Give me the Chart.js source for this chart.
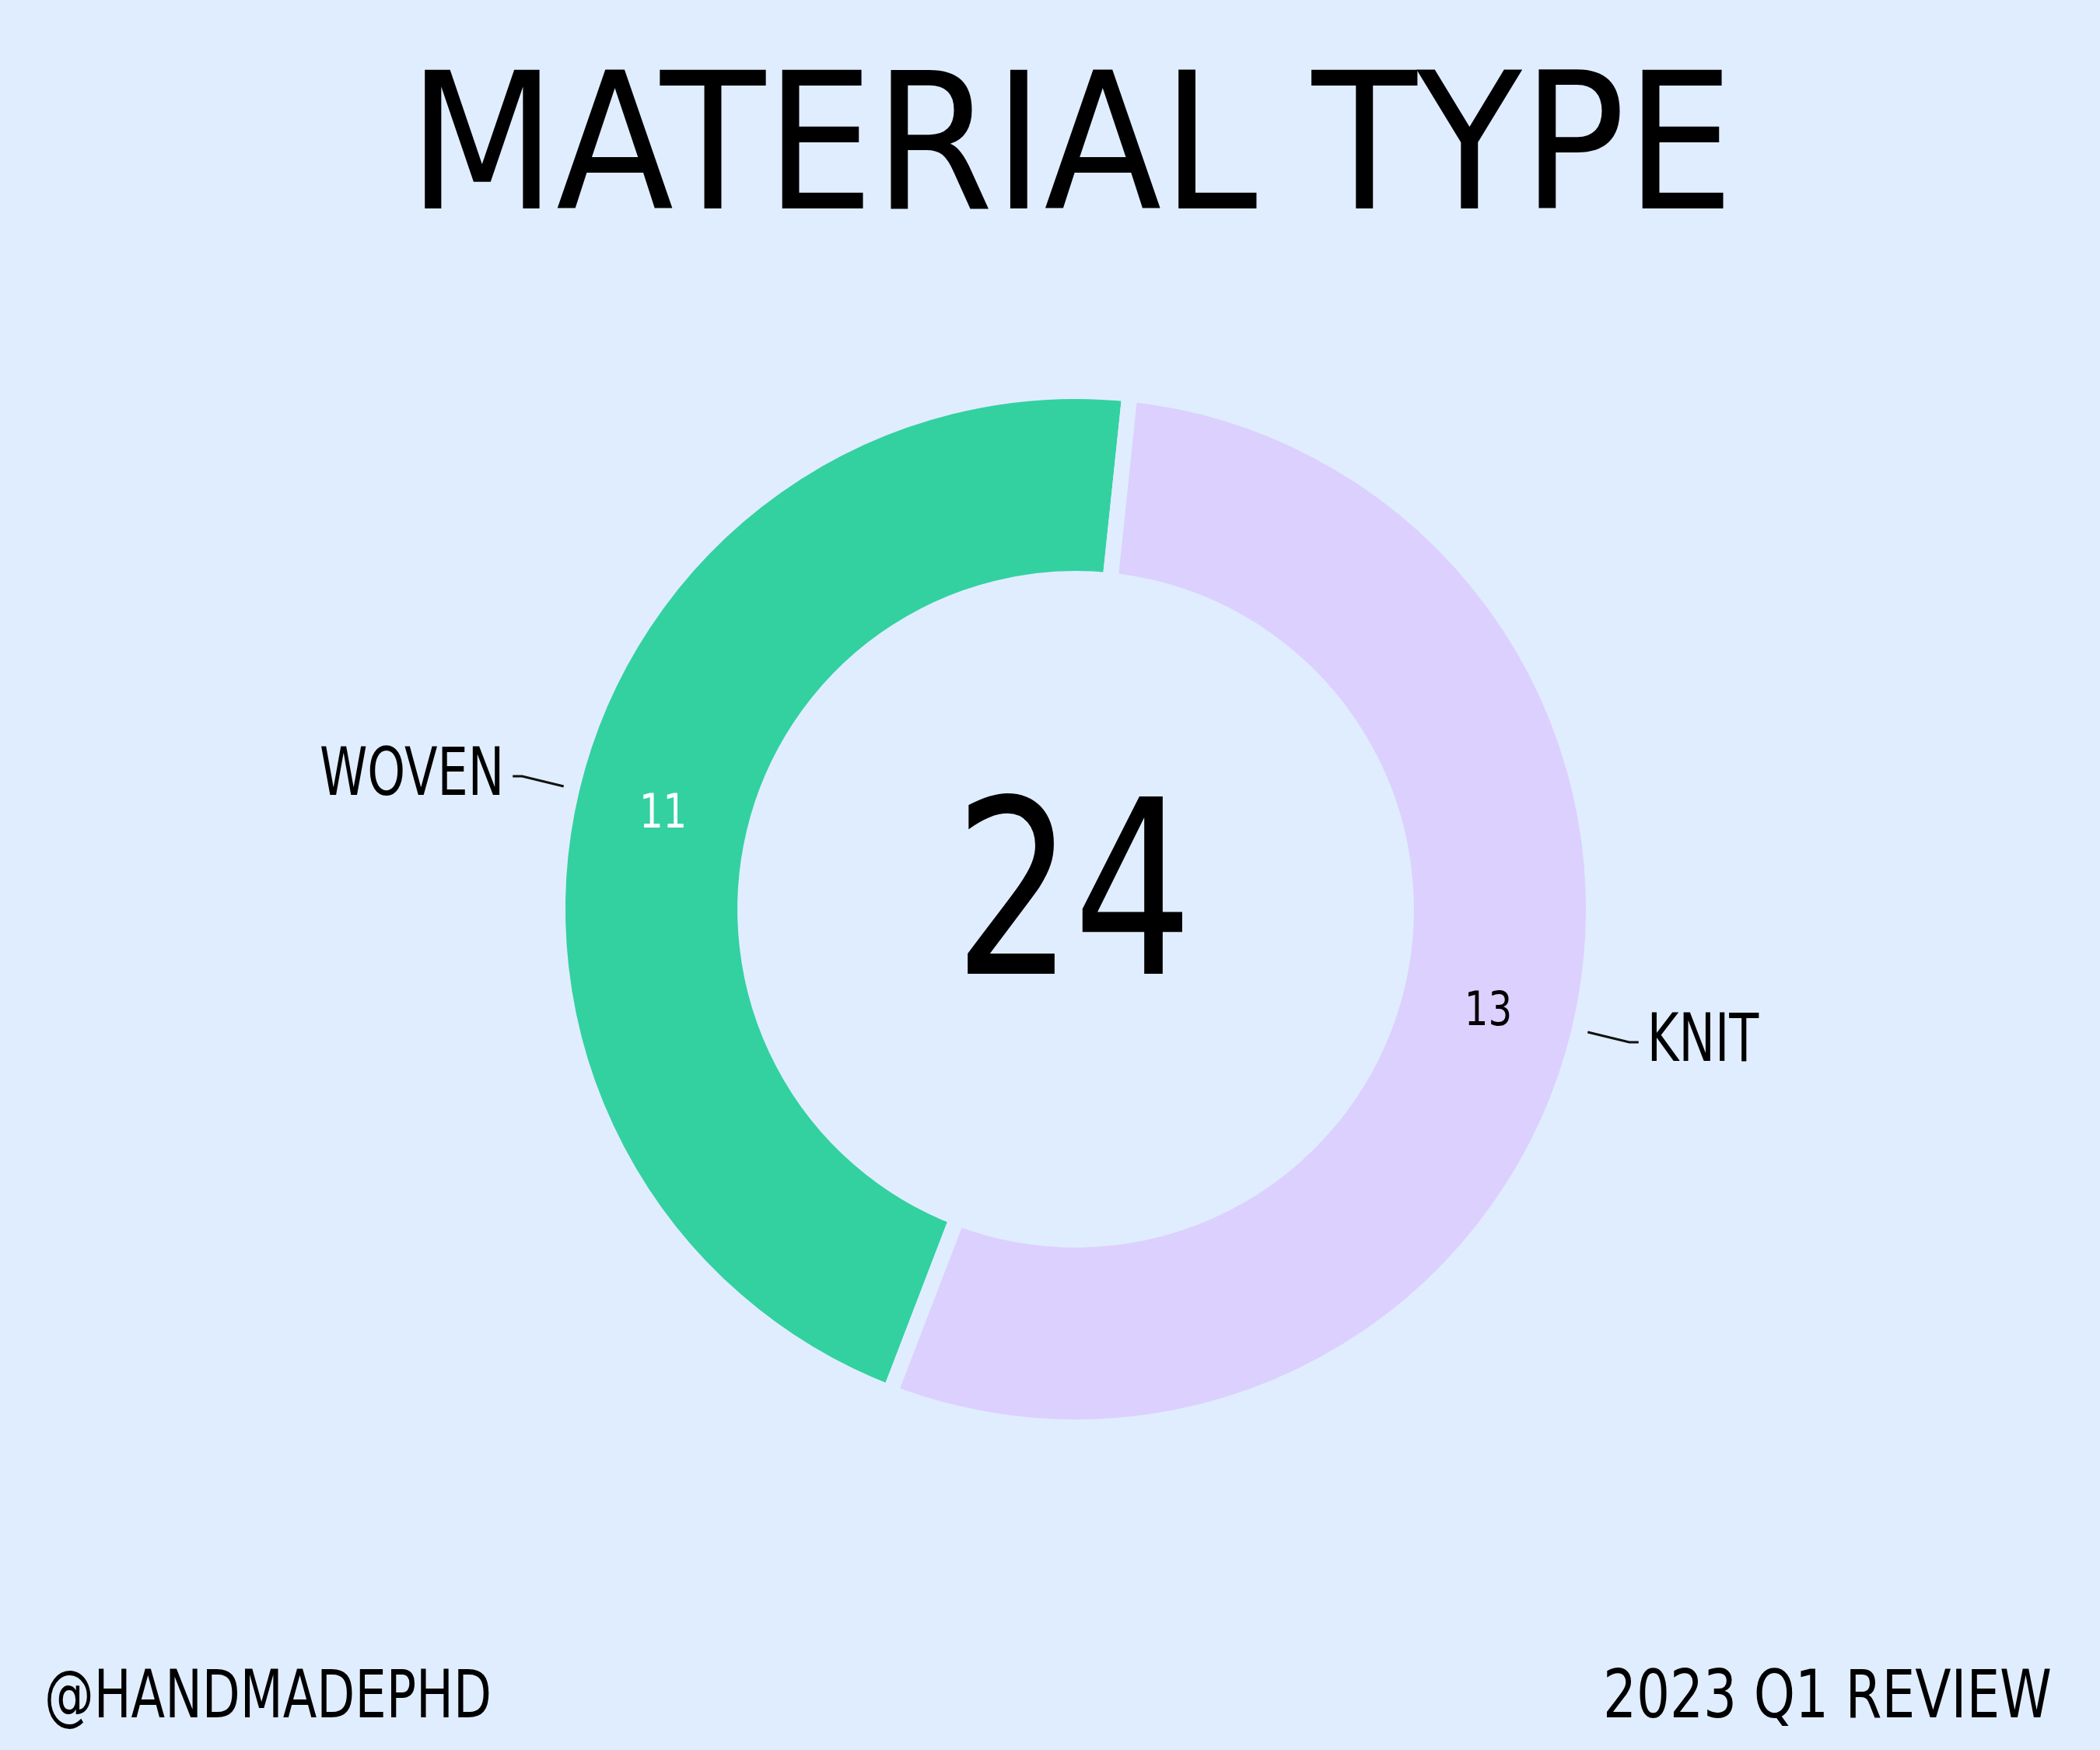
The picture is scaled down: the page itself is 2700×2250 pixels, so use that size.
<!DOCTYPE html>
<html>
<head>
<meta charset="utf-8">
<script src="https://cdn.jsdelivr.net/npm/chart.js@4.4.1/dist/chart.umd.min.js"></script>
<style>
  html, body { margin: 0; padding: 0; background: #e0edfe; }
  #wrap { width: 2700px; height: 2250px; position: relative; }
</style>
</head>
<body>
<div id="wrap"><canvas id="c" width="2700" height="2250"></canvas></div>
<script>
const categories = ["Woven", "Knit"];
const values = [11, 13];
const displayLabels = ["WOVEN", "KNIT"];
const titleText = "MATERIAL TYPE";
const footerLeft = "@HANDMADEPHD";
const footerRight = "2023 Q1 REVIEW";

const BG = "#e0edfe";
const COLORS = ["#33d1a0", "#dcd0fe"];
const VALUE_COLORS = ["#ffffff", "#000000"];
const FONT = "'DejaVu Sans', sans-serif";
const CAP = 0.729;

// draw text with given cap height, horizontally compressed by sx
function drawText(ctx, text, x, baseline, capH, sx, align) {
  ctx.save();
  ctx.font = `${capH / CAP}px ${FONT}`;
  ctx.textAlign = align;
  ctx.textBaseline = 'alphabetic';
  ctx.translate(x, baseline);
  ctx.scale(sx, 1);
  ctx.fillText(text, 0, 0);
  ctx.restore();
}
function widthFactor(ctx, text, capH, targetW) {
  ctx.save();
  ctx.font = `${capH / CAP}px ${FONT}`;
  const w = ctx.measureText(text).width;
  ctx.restore();
  return targetW / w;
}

const textPlugin = {
  id: 'textPlugin',
  afterDraw(chart) {
    const ctx = chart.ctx;
    const meta = chart.getDatasetMeta(0);
    const total = values.reduce((a, b) => a + b, 0);
    ctx.save();
    ctx.fillStyle = '#000';
    // title
    drawText(ctx, titleText, 1377, 268, 178, widthFactor(ctx, titleText, 178, 1705), 'center');
    // footers
    drawText(ctx, footerLeft, 57, 2208, 62, widthFactor(ctx, footerLeft, 62, 575), 'left');
    drawText(ctx, footerRight, 2638, 2208, 62, widthFactor(ctx, footerRight, 62, 577), 'right');

    const a0 = meta.data[0];
    // center total
    const totalStr = String(total);
    drawText(ctx, totalStr, a0.x - 3, a0.y + 83, 228, widthFactor(ctx, totalStr, 228, 307), 'center');

    meta.data.forEach((arc, i) => {
      const mid = (arc.startAngle + arc.endAngle) / 2;
      const cos = Math.cos(mid), sin = Math.sin(mid);
      const rMid = (arc.outerRadius + arc.innerRadius) / 2;
      // value label
      ctx.fillStyle = VALUE_COLORS[i];
      drawText(ctx, String(values[i]), arc.x + cos * rMid, arc.y + sin * rMid + 22, 44, 0.8, 'center');
      // leader line
      const r1 = arc.outerRadius + 11, r2 = arc.outerRadius + 66;
      const x1 = arc.x + cos * r1, y1 = arc.y + sin * r1;
      const x2 = arc.x + cos * r2, y2 = arc.y + sin * r2;
      const dir = cos >= 0 ? 1 : -1;
      const x3 = x2 + dir * 12;
      ctx.strokeStyle = '#111';
      ctx.lineWidth = 3;
      ctx.beginPath();
      ctx.moveTo(x1, y1); ctx.lineTo(x2, y2); ctx.lineTo(x3, y2);
      ctx.stroke();
      ctx.fillStyle = '#000';
      drawText(ctx, displayLabels[i], x3 + dir * 11, y2 + 24, 62, 0.73, dir > 0 ? 'left' : 'right');
    });
    ctx.restore();
  }
};

new Chart(document.getElementById('c'), {
  type: 'doughnut',
  data: {
    labels: categories,
    datasets: [{
      data: values,
      backgroundColor: COLORS,
      borderColor: BG,
      borderWidth: 20,
      borderJoinStyle: 'miter',
      hoverOffset: 0
    }]
  },
  options: {
    responsive: false,
    animation: false,
    rotation: 201,
    radius: 666,
    cutout: '63.8%',
    layout: { padding: { left: 100, right: 34, top: 100, bottom: 12 } },
    plugins: {
      legend: { display: false },
      tooltip: { enabled: false },
      title: { display: false }
    }
  },
  plugins: [textPlugin]
});
</script>
</body>
</html>
